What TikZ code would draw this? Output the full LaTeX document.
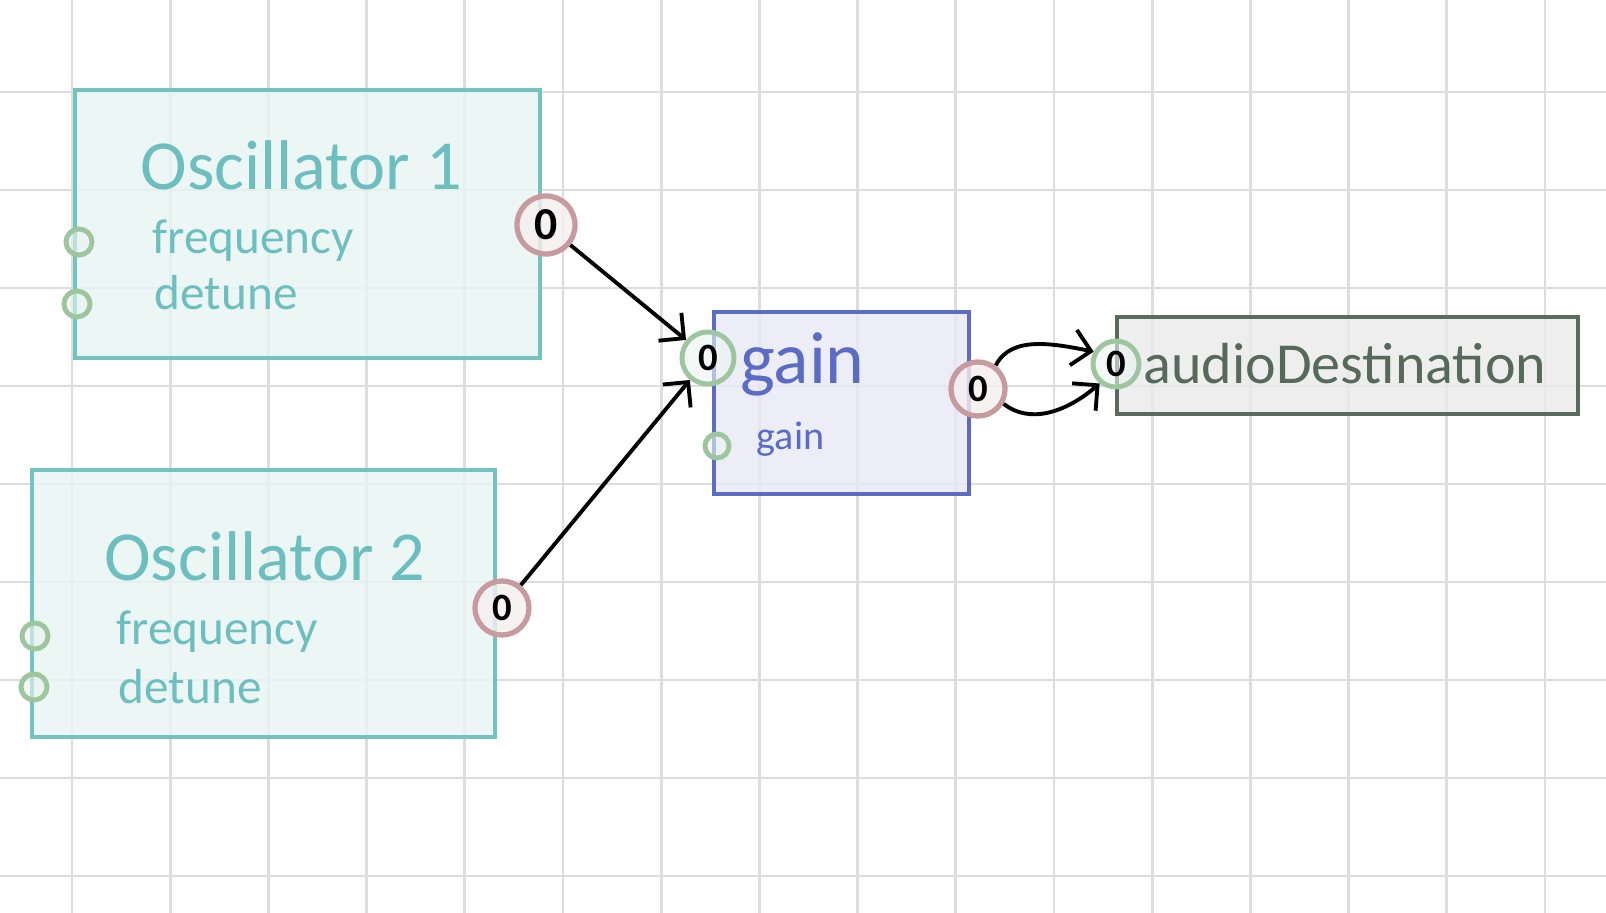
\documentclass[tikz,border=0pt]{standalone}
\usepackage{fontspec}
\setmainfont{Carlito}
\usetikzlibrary{arrows.meta}
\definecolor{gridgray}{RGB}{221,221,221}
\definecolor{oscline}{RGB}{116,194,193}
\definecolor{oscfill}{RGB}{232,244,243}
\definecolor{osctxt}{RGB}{108,191,190}
\definecolor{gainline}{RGB}{91,109,195}
\definecolor{gainfill}{RGB}{233,233,247}
\definecolor{gaintxt}{RGB}{90,108,196}
\definecolor{destline}{RGB}{88,108,94}
\definecolor{destfill}{RGB}{234,234,234}
\definecolor{desttxt}{RGB}{85,106,91}
\definecolor{outring}{RGB}{199,154,157}
\definecolor{outfill}{RGB}{246,239,239}
\definecolor{inring}{RGB}{157,198,158}
\definecolor{infill}{RGB}{236,244,240}

\begin{document}
\begin{tikzpicture}[x=0.01cm,y=-0.01cm,
	gridline/.style={gridgray,line width=0.8pt},
	oscbox/.style={draw=oscline,fill=oscfill,fill opacity=0.8,line width=1.3pt,inner sep=0},
	gainbox/.style={draw=gainline,fill=gainfill,fill opacity=0.8,line width=1.3pt,inner sep=0},
	destbox/.style={draw=destline,fill=destfill,fill opacity=0.8,line width=1.3pt,inner sep=0},
	lbl/.style={anchor=base west,inner sep=0},
	outport/.style={circle,draw=outring,fill=outfill,fill opacity=0.8,text opacity=1,line width=1.5pt,inner sep=0,font=\bfseries\fontsize{11}{11}\selectfont},
	inport/.style={circle,draw=inring,fill=infill,fill opacity=0.6,text opacity=1,line width=1.4pt,inner sep=0,font=\bfseries\fontsize{11}{11}\selectfont},
	wire/.style={-{Straight Barb[length=1.8mm,width=3.6mm]},line width=1.1pt,black}]
	\useasboundingbox (0,0) rectangle (1606,913);
	\fill[white] (0,0) rectangle (1606,913);
	% grid
	\foreach \i in {0,...,15}
		\draw[gridline] ({72+98.2*\i},0) -- ({72+98.2*\i},913);
	\foreach \j in {0,...,8}
		\draw[gridline] (0,{92+98*\j}) -- (1606,{92+98*\j});
	% boxes
	\node[oscbox,minimum width=4.65cm,minimum height=2.68cm] (osc1) at (307.5,224) {};
	\node[oscbox,minimum width=4.63cm,minimum height=2.67cm] (osc2) at (263.5,603.5) {};
	\node[gainbox,minimum width=2.55cm,minimum height=1.82cm] (gain) at (841.5,403) {};
	\node[destbox,minimum width=4.61cm,minimum height=0.97cm] (dest) at (1347.5,365.5) {};
	% labels
	\node[lbl,osctxt,font=\fontsize{20}{20}\selectfont] (osc1title) at (140,189.5) {Oscillator 1};
	\node[lbl,osctxt,font=\fontsize{14}{14}\selectfont] (osc1freqlbl) at (152,254) {frequency};
	\node[lbl,osctxt,font=\fontsize{14}{14}\selectfont] (osc1detlbl) at (154,310) {detune};
	\node[lbl,osctxt,font=\fontsize{20}{20}\selectfont] (osc2title) at (103.5,581) {Oscillator 2};
	\node[lbl,osctxt,font=\fontsize{14}{14}\selectfont] (osc2freqlbl) at (116,645) {frequency};
	\node[lbl,osctxt,font=\fontsize{14}{14}\selectfont] (osc2detlbl) at (118,703) {detune};
	\node[lbl,gaintxt,font=\fontsize{21}{21}\selectfont] (gaintitle) at (739.5,384) {gain};
	\node[lbl,gaintxt,font=\fontsize{11.4}{11.4}\selectfont] (gainparamlbl) at (756,450) {gain};
	\node[lbl,desttxt,font=\fontsize{16.5}{16.5}\selectfont] (desttitle) at (1143,384) {audioDestination};
	% ports
	\node[outport,minimum size=0.58cm,font=\bfseries\fontsize{13}{13}\selectfont] (osc1out) at (546,225) {0};
	\node[inport,minimum size=0.26cm] (osc1freq) at (79,242) {};
	\node[inport,minimum size=0.26cm] (osc1det) at (77,304) {};
	\node[outport,minimum size=0.54cm] (osc2out) at (502,608) {0};
	\node[inport,minimum size=0.26cm] (osc2freq) at (35,636) {};
	\node[inport,minimum size=0.26cm] (osc2det) at (34,687) {};
	\node[inport,minimum size=0.52cm] (gainin) at (708,358) {0};
	\node[inport,minimum size=0.24cm] (gainparam) at (717,446) {};
	\node[outport,minimum size=0.54cm] (gainout) at (978,389) {0};
	\node[inport,minimum size=0.46cm] (destin) at (1116,364) {0};
	% connections
	\draw[wire] (osc1out) -- (gainin);
	\draw[wire] (osc2out) -- (gainin);
	\draw[wire] (gainout.53) .. controls +(15,-30) and +(-40,-8) .. (destin.151);
	\draw[wire] (gainout.-30) .. controls +(25,20) and +(-35,30) .. (destin.230);
\end{tikzpicture}
\end{document}
